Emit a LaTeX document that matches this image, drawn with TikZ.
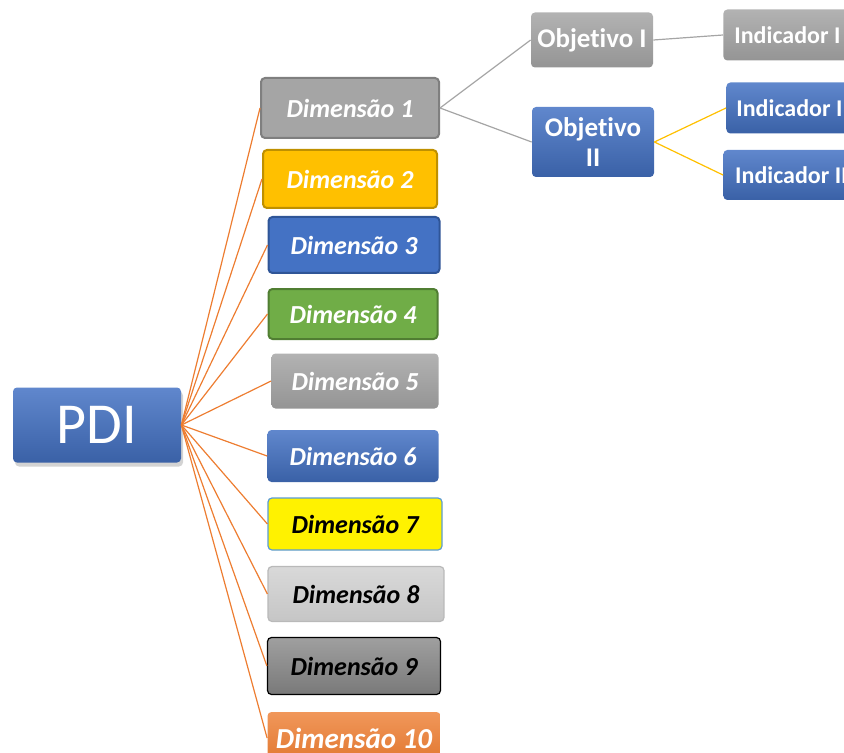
\documentclass[tikz,border=0pt]{standalone}
\usepackage{fontspec}
\setmainfont{Carlito}[Ligatures=NoCommon]
\usetikzlibrary{shadows}

\definecolor{dgray}{RGB}{165,165,165}
\definecolor{dgrayline}{RGB}{127,127,127}
\definecolor{dgold}{RGB}{255,192,0}
\definecolor{dgoldline}{RGB}{191,144,0}
\definecolor{dblue}{RGB}{68,114,196}
\definecolor{dblueline}{RGB}{47,85,151}
\definecolor{dgreen}{RGB}{112,173,71}
\definecolor{dgreenline}{RGB}{80,126,50}
\definecolor{dorange}{RGB}{237,125,49}
\definecolor{dyellowline}{RGB}{91,155,213}

\begin{document}
\begin{tikzpicture}[x=0.5pt,y=-0.5pt,
    box/.style={rounded corners=2pt, inner sep=1pt, align=center, text=white},
    dim/.style={box, font=\fontsize{13}{15}\selectfont\bfseries\itshape},
    obj/.style={box, font=\fontsize{13.5}{14}\selectfont\bfseries, minimum width=61pt},
    ind/.style={box, font=\fontsize{12}{13}\selectfont\bfseries, anchor=west},
    bluegrad/.style={top color=dblue!85!white, bottom color=dblue!85!black, draw=none},
    graygrad/.style={top color=dgray!85!white, bottom color=dgray!90!black, draw=none},
    link/.style={dorange, line width=0.6pt},
    glink/.style={dgray, line width=0.6pt},
    ylink/.style={dgold, line width=0.6pt}]

    \useasboundingbox (0,0) rectangle (844,753);
    \clip (0,0) rectangle (844,753);

    % root
    \node[box, bluegrad, minimum width=84pt, minimum height=37.5pt,
          font=\fontsize{29}{30}\selectfont,
          drop shadow={opacity=0.35, shadow xshift=1pt, shadow yshift=-2pt}] (pdi) at (97,425) {PDI};

    % dimensions
    \node[dim, fill=dgray, draw=dgrayline, line width=1pt, minimum width=89pt, minimum height=30pt] (dim1) at (350,108) {Dimensão 1};
    \node[dim, fill=dgold, draw=dgoldline, line width=1pt, minimum width=87pt, minimum height=29pt] (dim2) at (350,179) {Dimensão 2};
    \node[dim, fill=dblue, draw=dblueline, line width=1pt, minimum width=85.5pt, minimum height=28pt] (dim3) at (354,245) {Dimensão 3};
    \node[dim, fill=dgreen, draw=dgreenline, line width=1pt, minimum width=84.5pt, minimum height=25pt] (dim4) at (353,314) {Dimensão 4};
    \node[dim, graygrad, minimum width=83.5pt, minimum height=27.5pt] (dim5) at (355,381) {Dimensão 5};
    \node[dim, bluegrad, minimum width=85.5pt, minimum height=26pt] (dim6) at (353,456) {Dimensão 6};
    \node[dim, fill=yellow, draw=dyellowline, line width=0.6pt, text=black, minimum width=87pt, minimum height=26pt] (dim7) at (355,524) {Dimensão 7};
    \node[dim, top color=gray!30, bottom color=gray!45, draw=gray!55, line width=0.6pt, text=black, minimum width=88pt, minimum height=27.5pt] (dim8) at (356,594) {Dimensão 8};
    \node[dim, top color=gray!75, bottom color=gray!95!black, draw=black, line width=0.6pt, text=black, minimum width=86.5pt, minimum height=28.5pt] (dim9) at (354,666) {Dimensão 9};
    \node[dim, top color=dorange!80!white, bottom color=dorange!95!black, minimum width=86.5pt, minimum height=26pt,
          font=\fontsize{14.5}{16}\selectfont\bfseries\itshape] (dim10) at (354,738) {Dimensão 10};

    % objectives
    \node[obj, graygrad, minimum height=27.5pt] (obj1) at (592,40) {Objetivo I};
    \node[obj, bluegrad, minimum height=35pt, font=\fontsize{13.5}{15}\selectfont\bfseries] (obj2) at (593,142) {Objetivo\\II};

    % indicators
    \node[ind, graygrad, minimum width=64pt, minimum height=25.5pt] (ind1) at (723,35) {Indicador I};
    \node[ind, bluegrad, minimum width=63pt, minimum height=25.5pt] (ind2) at (726,108) {Indicador I};
    \node[ind, bluegrad, minimum width=68pt, minimum height=25pt] (ind3) at (723,175) {Indicador II};

    % connectors
    \draw[link] (pdi.east) -- (dim1.west);
    \draw[link] (pdi.east) -- (dim2.west);
    \draw[link] (pdi.east) -- (dim3.west);
    \draw[link] (pdi.east) -- (dim4.west);
    \draw[link] (pdi.east) -- (dim5.west);
    \draw[link] (pdi.east) -- (dim6.west);
    \draw[link] (pdi.east) -- (dim7.west);
    \draw[link] (pdi.east) -- (dim8.west);
    \draw[link] (pdi.east) -- (dim9.west);
    \draw[link] (pdi.east) -- (dim10.west);

    \draw[glink] (dim1.east) -- (obj1.west);
    \draw[glink] (dim1.east) -- (obj2.west);
    \draw[glink] (obj1.east) -- (ind1.west);
    \draw[ylink] (obj2.east) -- (ind2.west);
    \draw[ylink] (obj2.east) -- (ind3.west);
\end{tikzpicture}
\end{document}
